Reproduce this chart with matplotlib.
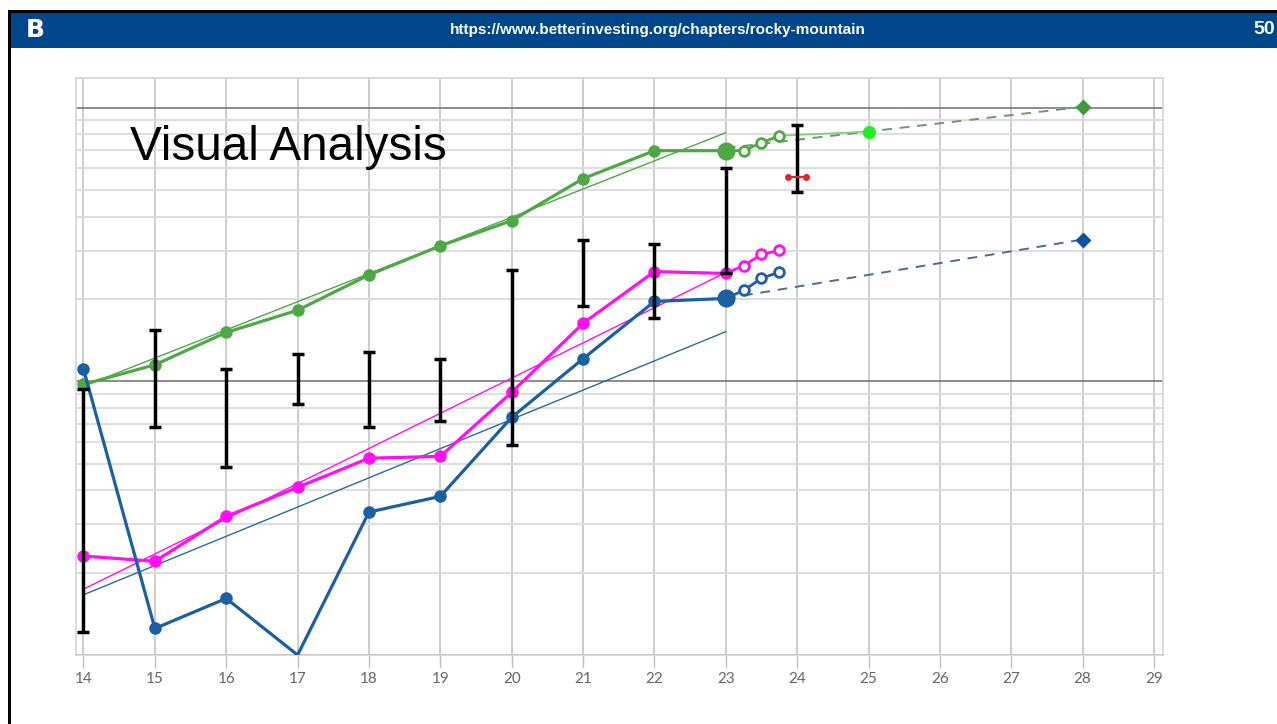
import numpy as np
import matplotlib.pyplot as plt
from matplotlib.patches import Rectangle
from matplotlib.ticker import LogLocator, NullFormatter, FixedLocator

# Yearly values (log scale chart)
years = [14, 15, 16, 17, 18, 19, 20, 21, 22, 23]
green = [9.75, 11.5, 15.1, 18.2, 24.5, 31.3, 38.7, 55.1, 69.7, 69.7]
magenta = [2.30, 2.20, 3.21, 4.10, 5.24, 5.32, 9.12, 16.3, 25.2, 24.8]
blue = [11.1, 1.25, 1.61, 1.0, 3.33, 3.80, 7.39, 12.1, 19.6, 20.1]

# Quarterly points after the last year
quarters = [23.25, 23.5, 23.75]
green_q = [69.7, 74.5, 79.0]
magenta_q = [26.5, 29.1, 30.1]
blue_q = [21.5, 23.8, 25.1]

# Trend lines
trend_x = [14, 23]
green_trend = [9.6, 81.1]
magenta_trend = [1.74, 25.0]
blue_trend = [1.66, 15.2]

# Projections
proj_x = [23, 28]
green_proj = [71.3, 100.8]
blue_proj = [20.1, 33.0]
green_mid_x, green_mid_y = 25, 81.9

# High / low price bars
bar_x = [14, 15, 16, 17, 18, 19, 20, 21, 22, 23, 24]
bar_hi = [9.35, 15.4, 11.1, 12.6, 12.8, 12.1, 25.6, 33.0, 31.9, 60.4, 86.7]
bar_lo = [1.21, 6.79, 4.86, 8.24, 6.79, 7.14, 5.84, 18.8, 17.1, 25.0, 49.3]

# Current price marker
red_x = [23.87, 24.13]
red_y = [56.0, 56.0]

W, H = 1277, 724
fig = plt.figure(figsize=(W / 100, H / 100), dpi=100)

def px(x0, y0, x1, y1):
    return (x0 / W, 1 - y1 / H), (x1 - x0) / W, (y1 - y0) / H

# slide frame and header
for (x0, y0, x1, y1, c) in [(8, 10, W, 13, 'black'), (8, 10, 11, H, 'black'),
                            (11, 13, W, 48, '#00468b')]:
    xy, w, h = px(x0, y0, x1, y1)
    fig.add_artist(Rectangle(xy, w, h, transform=fig.transFigure, color=c, lw=0))

fig.text(658 / W, 1 - 30 / H, "https://www.betterinvesting.org/chapters/rocky-mountain",
         color='white', fontsize=11, fontweight='bold', family='Liberation Sans',
         ha='center', va='center')
fig.text(1264 / W, 1 - 30 / H, "50", color='white', fontsize=14, fontweight='bold',
         family='Liberation Sans', ha='center', va='center')
fig.text(35 / W, 1 - 30 / H, "B", color='white', fontsize=18, fontweight='bold',
         family='DejaVu Sans', ha='center', va='center')

ax = fig.add_axes([76 / W, 1 - 655 / H, (1163 - 76) / W, (655 - 78) / H])
ax.set_yscale('log')
ax.set_xlim(13.895, 29.126)
ax.set_ylim(1.0, 128.5)

# grid
ax.yaxis.set_major_locator(FixedLocator([1, 10, 100]))
ax.yaxis.set_minor_locator(LogLocator(base=10, subs=range(2, 10)))
ax.yaxis.set_major_formatter(NullFormatter())
ax.yaxis.set_minor_formatter(NullFormatter())
ax.tick_params(axis='y', which='both', length=0)
ax.grid(True, which='major', axis='y', color='#6e6e6e', lw=1.1)
ax.grid(True, which='minor', axis='y', color='#dedede', lw=1.4)
ax.set_xticks(range(14, 30))
ax.grid(True, which='major', axis='x', color='#c0c0c0', lw=1.1)
ax.tick_params(axis='x', length=9, width=1, color='#c0c0c0', labelcolor='#666666',
               labelsize=11, pad=3)
for lab in ax.get_xticklabels():
    lab.set_family('Lato')
for s in ax.spines.values():
    s.set_color('#d4d4d4')
    s.set_linewidth(1.2)
ax.set_axisbelow(True)

cg, cm, cb = '#4ea845', '#ff10f0', '#1b60a3'

# trend lines
ax.plot(trend_x, green_trend, color=cg, lw=1, zorder=2)
ax.plot(trend_x, magenta_trend, color=cm, lw=1, zorder=2)
ax.plot(trend_x, blue_trend, color='#2a6c9e', lw=1, zorder=2)

# projections
ax.plot(proj_x, green_proj, '--', color='#6b9a66', lw=1.4, dashes=(5, 4), zorder=2)
ax.plot(proj_x, blue_proj, '--', color='#4a6d94', lw=1.4, dashes=(5, 4), zorder=2)
ax.plot([quarters[-1], green_mid_x], [green_q[-1], green_mid_y], color='#7cd070', lw=1.2, zorder=2)
ax.plot(green_mid_x, green_mid_y, 'o', color='#22ee22', ms=8.5, zorder=3)
ax.plot(28, 100.8, 'D', color='#3f9a3a', ms=7.5, zorder=3)
ax.plot(28, 33.0, 'D', color='#0d52a0', ms=7.5, zorder=3)

# main series
for vals, qs, c in [(green, green_q, cg), (magenta, magenta_q, cm), (blue, blue_q, cb)]:
    mk = [i for i in range(len(years)) if vals[i] > 1.02]
    ax.plot(years, vals, '-o', color=c, lw=2.3, ms=8, markevery=mk, zorder=3)
    ax.plot([years[-1]] + quarters, [vals[-1]] + qs, '-', color=c, lw=2, zorder=3)
    ax.plot(quarters, qs, 'o', mfc='white', mec=c, mew=2, ms=7, zorder=4)
ax.plot(23, green[-1], 'o', color=cg, ms=12, zorder=4)
ax.plot(23, blue[-1], 'o', color=cb, ms=12, zorder=4)

# high / low bars
ax.vlines(bar_x, bar_lo, bar_hi, color='black', lw=2.5, zorder=5)
ax.plot(bar_x, bar_hi, '_', color='black', ms=8, mew=2.5, zorder=5)
ax.plot(bar_x, bar_lo, '_', color='black', ms=8, mew=2.5, zorder=5)

ax.plot(red_x, red_y, '-o', color='#e52424', lw=1.5, ms=4, zorder=5)

fig.text(130 / W, 1 - 160 / H, "Visual Analysis", fontsize=34.3, family='Liberation Sans',
         color='black', ha='left', va='baseline')

fig.savefig('out.png', dpi=100)
